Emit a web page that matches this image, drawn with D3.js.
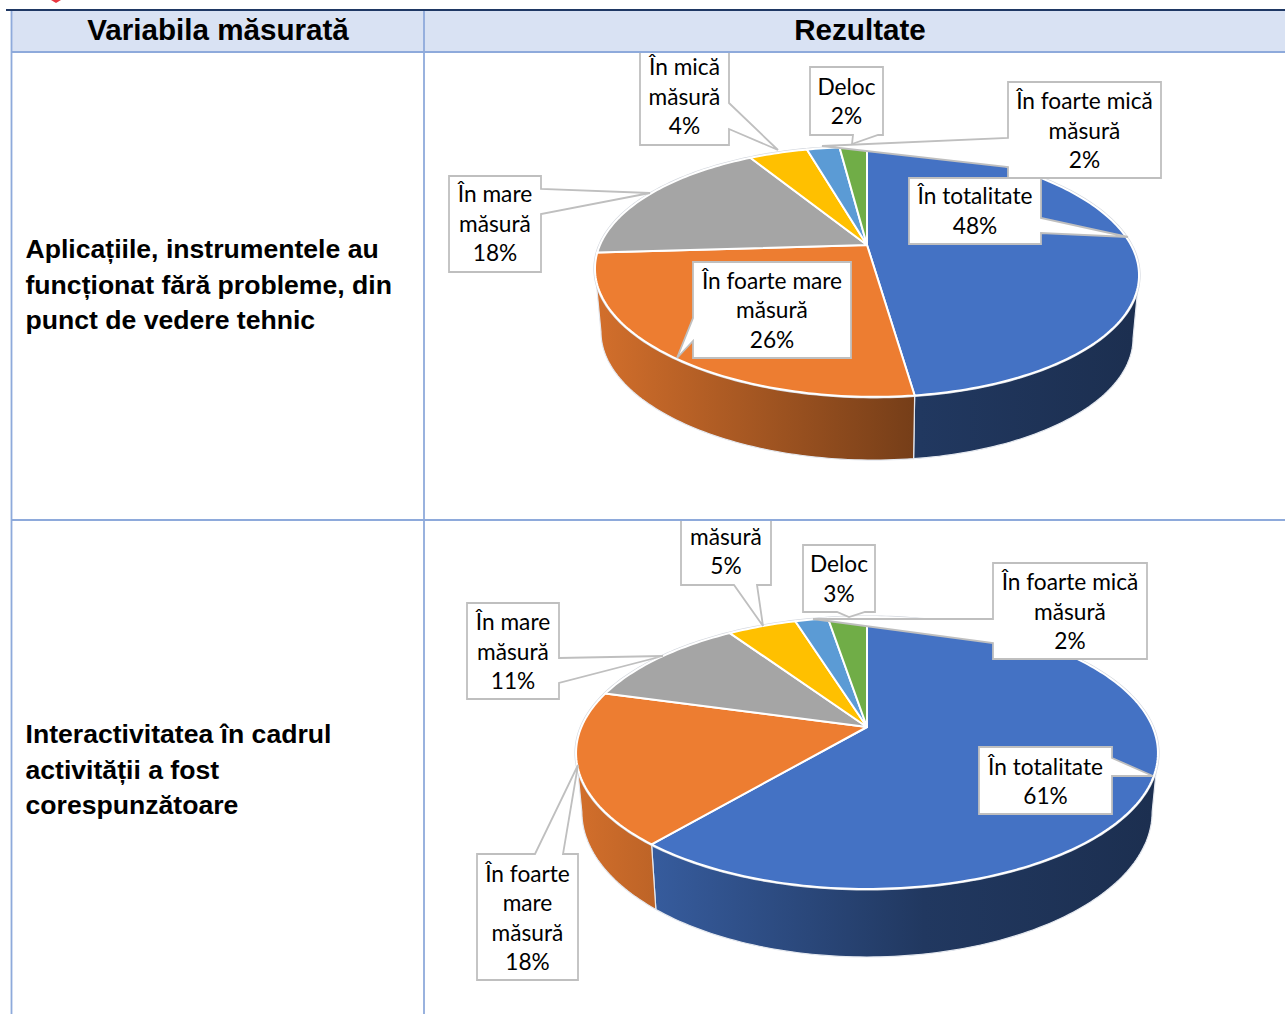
<!DOCTYPE html>
<html>
<head>
<meta charset="utf-8">
<script src="https://cdn.jsdelivr.net/npm/d3@7"></script>
<style>
  html, body { margin: 0; padding: 0; background: #fff; overflow: hidden; }
  svg { display: block; }
</style>
</head>
<body>
<div id="chart"></div>
<script>
// values, labels show them rounded
const colors = ["#4472c4", "#ed7d31", "#a5a5a5", "#ffc000", "#5b9bd5", "#70ad47"];
const values1 = [47.7, 25.8, 17.7, 4.3, 2.4, 2.0];
const values2 = [61.2, 18.2, 11.3, 4.6, 2.2, 2.6];
const labelLines1 = [
  ["În totalitate"],
  ["În foarte mare", "măsură"],
  ["În mare", "măsură"],
  ["În mică", "măsură"],
  ["În foarte mică", "măsură"],
  ["Deloc"]
];
const labelLines2 = [
  ["În totalitate"],
  ["În foarte", "mare", "măsură"],
  ["În mare", "măsură"],
  ["măsură"],
  ["În foarte mică", "măsură"],
  ["Deloc"]
];
const headers = ["Variabila măsurată", "Rezultate"];
const rowText1 = ["Aplicațiile, instrumentele au", "funcționat fără probleme, din", "punct de vedere tehnic"];
const rowText2 = ["Interactivitatea în cadrul", "activității a fost", "corespunzătoare"];

const width = 1285;
const height = 1014;

// camera of each pie: the slices meet off the ellipse centre because of the perspective
const view1 = { cx: 867, cy: 245, rx: 265.6, ry: 119, k: 0.216, cyBottom: 308, ryBottom: 119.2, s: 0.978, tilt: 0.012 };
const view2 = { cx: 867, cy: 727, rx: 285.6, ry: 131, k: 0.191, cyBottom: 784.3, ryBottom: 139.7, s: 0.98, tilt: 0 };

// callout boxes, in the same order as the slices
const callouts1 = [
  { box: [909, 178, 1041, 244], side: "right", base: [218, 233], tip: [1128, 237], y: 204 },
  { box: [693, 262, 851, 358], side: "left", base: [341, 318], tip: [677, 358], y: 288.5 },
  { box: [449, 176, 541, 272], side: "right", base: [189, 214], tip: [650, 193], y: 202 },
  { box: [640, 40, 729, 145], side: "right", base: [103, 129], tip: [778, 150], y: 75 },
  { box: [1008, 82, 1161, 178], side: "left", base: [167, 138], tip: [822, 146], y: 109 },
  { box: [810, 67, 883, 135], side: "bottom", base: [878, 853], tip: [852, 144], y: 94.5 }
];
const callouts2 = [
  { box: [979, 747, 1112, 814], side: "right", base: [758, 776], tip: [1153, 776], y: 774.5 },
  { box: [477, 854, 578, 980], side: "top", base: [535, 563], tip: [578, 765], y: 881.5 },
  { box: [467, 603, 559, 699], side: "right", base: [658, 683], tip: [663, 656], y: 630 },
  { box: [681, 510, 771, 585], side: "bottom", base: [757, 734], tip: [763, 626], y: 544.5 },
  { box: [993, 563, 1147, 659], side: "left", base: [643, 619], tip: [813, 619], y: 590 },
  { box: [803, 545, 875, 612], side: "bottom", base: [865, 837], tip: [849, 617], y: 572 }
];

const svg = d3.select("#chart").append("svg")
  .attr("width", width)
  .attr("height", height);

const defs = svg.append("defs");

function project(v, a, bottom) {
  const x = Math.sin(a);
  const y = -Math.cos(a);
  const w = 1 - v.k * y;
  const s = bottom ? v.s : 1;
  const cy = bottom ? v.cyBottom : v.cy;
  const ry = bottom ? v.ryBottom : v.ry;
  const px = s * v.rx * x / w;
  return [v.cx + px, cy + ry * y / w + v.tilt * px];
}

function arcPoints(v, a0, a1, bottom) {
  const n = Math.max(2, Math.ceil(Math.abs(a1 - a0) / 0.02));
  return d3.range(n + 1).map(i => project(v, a0 + (a1 - a0) * i / n, bottom));
}

function calloutPath(c) {
  const [x0, y0, x1, y1] = c.box;
  const pts = [[x0, y0]];
  if (c.side === "top") pts.push([c.base[0], y0], c.tip, [c.base[1], y0]);
  pts.push([x1, y0]);
  if (c.side === "right") pts.push([x1, c.base[0]], c.tip, [x1, c.base[1]]);
  pts.push([x1, y1]);
  if (c.side === "bottom") pts.push([c.base[0], y1], c.tip, [c.base[1], y1]);
  pts.push([x0, y1]);
  if (c.side === "left") pts.push([x0, c.base[0]], c.tip, [x0, c.base[1]]);
  return d3.line()(pts) + "Z";
}

function drawPie(name, values, labelLines, callouts, v, clipTop, clipBottom) {
  const line = d3.line();
  const slices = d3.pie().sort(null)(values);

  defs.append("clipPath").attr("id", "clip-" + name)
    .append("rect")
    .attr("x", 425).attr("y", clipTop)
    .attr("width", width - 425).attr("height", clipBottom - clipTop);

  const g = svg.append("g").attr("clip-path", `url(#clip-${name})`);

  // side wall goes from a lighter left to a dark right
  colors.forEach((c, i) => {
    const grad = defs.append("linearGradient")
      .attr("id", `wall-${name}-${i}`)
      .attr("gradientUnits", "userSpaceOnUse")
      .attr("x1", v.cx - v.rx).attr("x2", v.cx + v.rx)
      .attr("y1", 0).attr("y2", 0);
    const base = d3.rgb(c);
    grad.append("stop").attr("offset", 0).attr("stop-color", base.darker(0.35));
    grad.append("stop").attr("offset", 0.6).attr("stop-color", base.darker(2));
    grad.append("stop").attr("offset", 1).attr("stop-color", base.darker(2.5));
  });

  // wall runs between the two points where the top ellipse turns back
  const turn = Math.asin(v.k);
  const wallFrom = Math.PI / 2 + turn;
  const wallTo = 3 * Math.PI / 2 - turn;
  slices.forEach((d, i) => {
    const a0 = Math.max(d.startAngle, wallFrom);
    const a1 = Math.min(d.endAngle, wallTo);
    if (a1 <= a0) return;
    const pts = arcPoints(v, a0, a1, false).concat(arcPoints(v, a1, a0, true));
    g.append("path")
      .attr("d", line(pts) + "Z")
      .attr("fill", `url(#wall-${name}-${i})`)
      .attr("stroke", "#e4e8ef")
      .attr("stroke-width", 1.2);
  });

  // faint rim behind the top face
  g.append("path")
    .attr("d", line(arcPoints(v, 0, 2 * Math.PI, false)) + "Z")
    .attr("fill", "none")
    .attr("stroke", "#d3d7de")
    .attr("stroke-width", 3.2);

  // top face
  slices.forEach((d, i) => {
    const pts = [[v.cx, v.cy]].concat(arcPoints(v, d.startAngle, d.endAngle, false));
    g.append("path")
      .attr("d", line(pts) + "Z")
      .attr("fill", colors[i])
      .attr("stroke", "#fff")
      .attr("stroke-width", 2)
      .attr("stroke-linejoin", "round");
  });

  // callouts
  callouts.forEach((c, i) => {
    g.append("path")
      .attr("d", calloutPath(c))
      .attr("fill", "#fff")
      .attr("stroke", "#bfbfbf")
      .attr("stroke-width", 1.8);
    const lines = labelLines[i].concat(Math.round(values[i]) + "%");
    g.selectAll(null)
      .data(lines)
      .join("text")
      .attr("x", (c.box[0] + c.box[2]) / 2)
      .attr("y", (t, j) => c.y + j * 29.5)
      .attr("text-anchor", "middle")
      .style("font-family", "Lato, 'Open Sans', sans-serif")
      .style("font-size", "22.7px")
      .style("fill", "#000")
      .text(t => t);
  });
}

drawPie("one", values1, labelLines1, callouts1, view1, 52, 520);
drawPie("two", values2, labelLines2, callouts2, view2, 520, height);

// table on top of the charts
const border = "#8eaadb";
const rightEdge = width;

svg.append("polygon")
  .attr("points", "51,0 61,0 56,3")
  .attr("fill", "#e8353f");

svg.append("rect")
  .attr("x", 11).attr("y", 11)
  .attr("width", rightEdge - 11).attr("height", 41)
  .attr("fill", "#d9e2f3");

svg.append("line")
  .attr("x1", 6).attr("x2", rightEdge)
  .attr("y1", 10).attr("y2", 10)
  .attr("stroke", "#1f3864").attr("stroke-width", 2);

[52, 520].forEach(y => {
  svg.append("line")
    .attr("x1", 11).attr("x2", rightEdge)
    .attr("y1", y).attr("y2", y)
    .attr("stroke", border).attr("stroke-width", 1.8);
});
[11.5, 424].forEach(x => {
  svg.append("line")
    .attr("x1", x).attr("x2", x)
    .attr("y1", 11).attr("y2", height)
    .attr("stroke", border).attr("stroke-width", 1.8);
});

const headerX = [218, 860];
headers.forEach((h, i) => {
  svg.append("text")
    .attr("x", headerX[i])
    .attr("y", 40)
    .attr("text-anchor", "middle")
    .style("font-family", "'Liberation Sans', Arial, sans-serif")
    .style("font-weight", "bold")
    .style("font-size", "29.6px")
    .style("fill", "#000")
    .text(h);
});

function rowLabel(lines, y0) {
  svg.append("g").selectAll("text")
    .data(lines)
    .join("text")
    .attr("x", 25.5)
    .attr("y", (d, i) => y0 + i * 35.5)
    .style("font-family", "'Liberation Sans', Arial, sans-serif")
    .style("font-weight", "bold")
    .style("font-size", "26.6px")
    .style("fill", "#000")
    .text(d => d);
}
rowLabel(rowText1, 258);
rowLabel(rowText2, 743);
</script>
</body>
</html>
